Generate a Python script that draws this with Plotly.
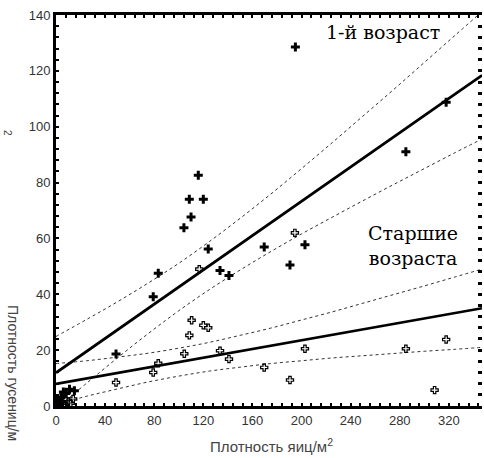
import plotly.graph_objects as go

# ---- data ----
# 1st instar (filled crosses)
x_first = [1, 2, 3, 4, 6, 8, 11, 15, 48.9, 79.2, 83.3, 104.2, 108.6, 110, 115.9, 120, 124,
           133.6, 140.9, 169.6, 190.6, 195, 202.8, 285, 317.8]
y_first = [2, 1, 0.5, 3, 5, 4.5, 6, 5.5, 18.6, 39.1, 47.5, 63.8, 74.0, 67.7, 82.6, 74.0, 56.2,
           48.5, 46.7, 56.9, 50.5, 128.5, 57.7, 91.0, 108.8]
# older instars (open markers)
x_old = [3, 5, 7, 8, 10, 12, 14, 48.9, 79.2, 83.3, 104.5, 108.6, 110.5, 116.7, 120, 124,
         133.6, 140.9, 169.6, 190.6, 194.6, 202.8, 285, 308.4, 317.8]
y_old = [1.5, 1, 0.5, 2.5, 1.5, 1, 2.5, 8.4, 12.0, 15.3, 18.7, 25.3, 30.7, 49.0, 28.9, 28.0,
         19.8, 16.8, 13.8, 9.3, 62.0, 20.5, 20.5, 5.7, 23.8]

# regression lines and confidence bands (read at sample x positions)
x_band = [0, 25, 50, 75, 100, 125, 150, 175, 200, 225, 250, 275, 300, 325, 347]
fit_first = [11.9, 19.6, 27.3, 34.9, 42.6, 50.3, 58.0, 65.6, 73.3, 81.0, 88.7, 96.3, 104.0, 111.7, 118.4]
up_first = [24.9, 31.0, 37.3, 44.0, 51.1, 58.9, 67.2, 75.9, 85.0, 94.3, 103.8, 113.3, 123.0, 132.7, 141.2]
lo_first = [-1.1, 8.2, 17.2, 25.9, 34.1, 41.7, 48.7, 55.3, 61.6, 67.6, 73.5, 79.3, 85.0, 90.7, 95.6]
fit_old = [7.9, 9.85, 11.8, 13.75, 15.7, 17.65, 19.6, 21.55, 23.5, 25.45, 27.4, 29.35, 31.3, 33.25, 35.0]
up_old = [15.2, 16.2, 17.5, 18.9, 20.7, 22.8, 25.3, 27.9, 30.8, 33.7, 36.8, 39.9, 43.0, 46.2, 49.0]
lo_old = [0.6, 3.5, 6.1, 8.6, 10.7, 12.5, 13.9, 15.2, 16.2, 17.2, 18.0, 18.8, 19.6, 20.3, 21.0]

x_ticks = [0, 40, 80, 120, 160, 200, 240, 280, 320]
y_ticks = [0, 20, 40, 60, 80, 100, 120, 140]

fig = go.Figure()

dash_style = dict(color="#333333", width=1, dash="3px,3px")
for ys in (up_first, lo_first, up_old, lo_old):
    fig.add_trace(go.Scatter(x=x_band, y=ys, mode="lines", line=dict(shape="spline", **dash_style),
                             hoverinfo="skip"))
for ys in (fit_first, fit_old):
    fig.add_trace(go.Scatter(x=x_band, y=ys, mode="lines", line=dict(color="black", width=2.7),
                             hoverinfo="skip"))

fig.add_trace(go.Scatter(x=x_old, y=y_old, mode="markers",
                         marker=dict(symbol="cross-open", size=6, color="black",
                                     line=dict(color="black", width=1.2))))
fig.add_trace(go.Scatter(x=x_first, y=y_first, mode="markers",
                         marker=dict(symbol="cross", size=7.5, color="black", line=dict(width=0))))
# invisible trace for right-hand tick axis
fig.add_trace(go.Scatter(x=[0], y=[0], yaxis="y2", mode="markers", marker=dict(opacity=0),
                         hoverinfo="skip"))

tick_font = dict(family="Liberation Sans Narrow, Arial Narrow, Liberation Sans, sans-serif",
                 size=13, color="#333333")

fig.update_layout(
    width=484, height=458,
    margin=dict(l=56, r=2, t=15, b=52),
    paper_bgcolor="white", plot_bgcolor="white",
    showlegend=False,
    xaxis=dict(range=[0, 347], tickvals=x_ticks, ticktext=[str(v) for v in x_ticks],
               showgrid=False, zeroline=False, showline=True, linecolor="black", linewidth=3,
               mirror="ticks", ticks="inside", ticklen=3, tickwidth=2, tickcolor="black",
               minor=dict(ticks="inside", dtick=8, tick0=0, ticklen=3, tickwidth=2, tickcolor="black"),
               tickfont=tick_font),
    yaxis=dict(range=[0, 140], tickvals=y_ticks, ticktext=[str(v) for v in y_ticks],
               showgrid=False, zeroline=False, showline=True, linecolor="black", linewidth=3,
               ticks="inside", ticklen=3, tickwidth=2, tickcolor="black",
               minor=dict(ticks="inside", dtick=4, tick0=0, ticklen=3, tickwidth=2, tickcolor="black"),
               tickfont=tick_font),
    yaxis2=dict(range=[0, 140], overlaying="y", side="right", showgrid=False, zeroline=False,
                showline=False, showticklabels=False, tickvals=y_ticks,
                ticks="inside", ticklen=4, tickwidth=3, tickcolor="black",
                minor=dict(ticks="inside", dtick=4, tick0=0, ticklen=4, tickwidth=3, tickcolor="black")),
)

serif = dict(family="DejaVu Serif, serif", size=19, color="black")
fig.add_annotation(x=266, y=134.0, xref="x", yref="y", text="1-й возраст", showarrow=False,
                   font=serif, bgcolor="white")
fig.add_annotation(x=290.7, y=57.4, xref="x", yref="y", text="Старшие<br>возраста",
                   showarrow=False, font=serif, bgcolor="white")

title_font = dict(family="Liberation Sans, Arial, sans-serif", size=15, color="#444444")
fig.add_annotation(x=(271 - 56) / 426, y=(406 - 445) / 391, xref="paper", yref="paper",
                   text="Плотность яиц/м<sup>2</sup>", showarrow=False, font=title_font,
                   xanchor="center", yanchor="middle")
fig.add_annotation(x=(13 - 56) / 426, y=(406 - 373) / 391, xref="paper", yref="paper",
                   text="Плотность гусениц/м", showarrow=False,
                   font=dict(family="Liberation Sans, Arial, sans-serif", size=14, color="#444444"),
                   textangle=90, xanchor="center", yanchor="middle")
fig.add_annotation(x=(8 - 56) / 426, y=(406 - 133) / 391, xref="paper", yref="paper",
                   text="2", showarrow=False, font=dict(family="Liberation Sans, Arial, sans-serif",
                                                       size=10, color="#444444"),
                   textangle=90, xanchor="center", yanchor="middle")

fig.write_html("out.html")
